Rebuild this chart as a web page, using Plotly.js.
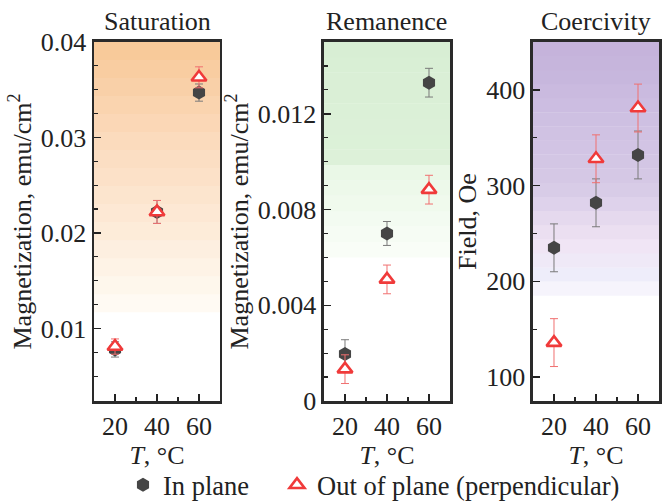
<!DOCTYPE html>
<html>
<head>
<meta charset="utf-8">
<script src="https://cdn.plot.ly/plotly-3.0.1.min.js"></script>
<style>html,body{margin:0;padding:0;background:#fff;}#chart{width:665px;height:501px;}</style>
</head>
<body>
<div id="chart"></div>
<script>
// ---- data ----
const temperatures = [20, 40, 60];

const satInPlane = [0.0078, 0.0222, 0.0347];
const satInPlaneErr = [0.0008, 0.0012, 0.0009];
const satOutPlane = [0.0081, 0.0222, 0.0363];
const satOutPlaneErr = [0.0008, 0.0012, 0.0011];

const remInPlane = [0.00196, 0.0070, 0.0133];
const remInPlaneErr = [0.0006, 0.0005, 0.0006];
const remOutPlane = [0.00133, 0.00508, 0.00883];
const remOutPlaneErr = [0.0006, 0.0006, 0.0006];

const coeInPlane = [235, 282, 332];
const coeInPlaneErr = [25, 25, 25];
const coeOutPlane = [136, 328, 381];
const coeOutPlaneErr = [25, 25, 25];

const panelTitles = ["Saturation", "Remanence", "Coercivity"];
const seriesNames = ["In plane", "Out of plane (perpendicular)"];

// ---- style ----
const FONT = "Liberation Serif, Times New Roman, serif";
const FS = 26;
const FS_LEG = 26.5;
const hexColor = "#454545";
const hexErrColor = "#7a7a7a";
const triColor = "#f03a3a";
const triErrColor = "#f07070";

function inPlane(x, y, e, xa, ya, show) {
  return {x: x, y: y, xaxis: xa, yaxis: ya, type: "scatter", mode: "markers",
    name: seriesNames[0], showlegend: show, legendgroup: "a", legend: "legend",
    marker: {symbol: "hexagon", size: 14, color: hexColor, line: {width: 0}},
    error_y: {type: "data", array: e, visible: true, color: hexErrColor, thickness: 1, width: 4}};
}
function outPlane(x, y, e, xa, ya, show) {
  return {x: x, y: y, xaxis: xa, yaxis: ya, type: "scatter", mode: "markers",
    name: seriesNames[1], showlegend: show, legendgroup: "b", legend: "legend2",
    marker: {symbol: "triangle-up", size: 13, color: "#ffffff", line: {width: 2.6, color: triColor}},
    error_y: {type: "data", array: e, visible: true, color: triErrColor, thickness: 1, width: 4}};
}

const data = [
  inPlane(temperatures, satInPlane, satInPlaneErr, "x", "y", true),
  inPlane(temperatures, remInPlane, remInPlaneErr, "x2", "y2", false),
  inPlane(temperatures, coeInPlane, coeInPlaneErr, "x3", "y3", false),
  outPlane(temperatures, satOutPlane, satOutPlaneErr, "x", "y", true),
  outPlane(temperatures, remOutPlane, remOutPlaneErr, "x2", "y2", false),
  outPlane(temperatures, coeOutPlane, coeOutPlaneErr, "x3", "y3", false)
];

// background gradient bands (styling)
function lerp(a, b, t) { return Math.round(a + (b - a) * t); }
function mix(c1, c2, t) { return "rgb(" + lerp(c1[0], c2[0], t) + "," + lerp(c1[1], c2[1], t) + "," + lerp(c1[2], c2[2], t) + ")"; }
function bands(yref, stops, n) {
  const out = [];
  const y0 = stops[0][0], y1 = stops[stops.length - 1][0];
  const step = (y1 - y0) / n;
  for (let i = 0; i < n; i++) {
    const ya = y0 + i * step, yb = ya + step, ym = (ya + yb) / 2;
    let k = 0;
    while (k < stops.length - 2 && ym > stops[k + 1][0]) k++;
    const t = (ym - stops[k][0]) / (stops[k + 1][0] - stops[k][0]);
    out.push({type: "rect", xref: yref.replace("y", "x") + " domain", yref: yref,
      x0: 0, x1: 1, y0: ya, y1: yb + step * 0.02, layer: "below",
      fillcolor: mix(stops[k][1], stops[k + 1][1], t), line: {width: 0}});
  }
  return out;
}
const shapes = [].concat(
  bands("y", [[0.0117, [255, 252, 246]], [0.02, [253, 236, 218]], [0.03, [251, 218, 188]], [0.04, [248, 200, 151]]], 15),
  bands("y2", [[0.006, [250, 254, 249]], [0.0099, [232, 247, 229]], [0.0101, [221, 241, 217]], [0.015, [216, 238, 212]]], 14),
  bands("y3", [[185, [250, 248, 253]], [205, [238, 238, 250]], [240, [240, 228, 244]], [300, [214, 202, 230]], [380, [205, 190, 225]], [420, [198, 182, 220]], [450, [197, 178, 219]]], 18)
);

function xaxis(dom) {
  return {domain: dom, range: [10, 70], tickvals: [20, 40, 60], ticks: "inside", ticklen: 7, tickwidth: 1.5,
    tickcolor: "#222", showline: true, linewidth: 2.5, linecolor: "#2a2a2a", mirror: true, showgrid: false, zeroline: false,
    minor: {tickvals: [30, 50], ticks: "inside", ticklen: 4, tickwidth: 1.2, tickcolor: "#222"},
    tickfont: {family: FONT, size: FS, color: "#222"}, automargin: false,
    title: {text: "<i>T</i>, °C", font: {family: FONT, size: FS, color: "#222"}, standoff: 4}, fixedrange: true};
}
function yaxis(range, tv, tt, minorDtick, title, standoff) {
  return {domain: [0.1996, 0.9162], range: range, tickvals: tv, ticktext: tt, ticks: "inside", ticklen: 7, tickwidth: 1.5,
    tickcolor: "#222", showline: true, linewidth: 2.5, linecolor: "#2a2a2a", mirror: true, showgrid: false, zeroline: false,
    minor: {dtick: minorDtick, ticks: "inside", ticklen: 4, tickwidth: 1.2, tickcolor: "#222"},
    tickfont: {family: FONT, size: FS, color: "#222"}, automargin: false,
    title: {text: title, font: {family: FONT, size: FS, color: "#222"}, standoff: standoff}, fixedrange: true};
}

function legendAt(xpx) {
  return {orientation: "h", x: xpx / 665, xanchor: "left", y: 0.032, yanchor: "middle",
    font: {family: FONT, size: FS_LEG, color: "#222"}, itemwidth: 30, bgcolor: "rgba(0,0,0,0)"};
}

const layout = {
  width: 665, height: 501, margin: {l: 0, r: 0, t: 0, b: 0, autoexpand: false},
  paper_bgcolor: "#fff", plot_bgcolor: "rgba(0,0,0,0)",
  font: {family: FONT, color: "#222"},
  showlegend: true,
  legend: legendAt(123),
  legend2: legendAt(277),
  xaxis: Object.assign(xaxis([0.1414, 0.3308]), {anchor: "y"}),
  xaxis2: Object.assign(xaxis([0.4872, 0.6767]), {anchor: "y2"}),
  xaxis3: Object.assign(xaxis([0.8015, 0.991]), {anchor: "y3"}),
  yaxis: Object.assign(yaxis([0.0024, 0.04], [0.01, 0.02, 0.03, 0.04], ["0.01", "0.02", "0.03", "0.04"], 0.0025, "Magnetization, emu/cm<sup>2</sup>", 2), {anchor: "x"}),
  yaxis2: Object.assign(yaxis([0, 0.015], [0, 0.004, 0.008, 0.012], ["0", "0.004", "0.008", "0.012"], 0.001, "Magnetization, emu/cm<sup>2</sup>", 2), {anchor: "x2"}),
  yaxis3: Object.assign(yaxis([75, 450], [100, 200, 300, 400], ["100", "200", "300", "400"], 50, "Field, Oe", 2), {anchor: "x3"}),
  shapes: shapes,
  annotations: panelTitles.map((t, i) => ({text: t, xref: (i === 0 ? "x" : "x" + (i + 1)) + " domain", x: 0.5, xanchor: "center",
    yref: "paper", y: 1 - 21 / 501, yanchor: "middle", showarrow: false, font: {family: FONT, size: FS, color: "#222"}}))
};

Plotly.newPlot("chart", data, layout, {displayModeBar: false, staticPlot: true});
</script>
</body>
</html>
